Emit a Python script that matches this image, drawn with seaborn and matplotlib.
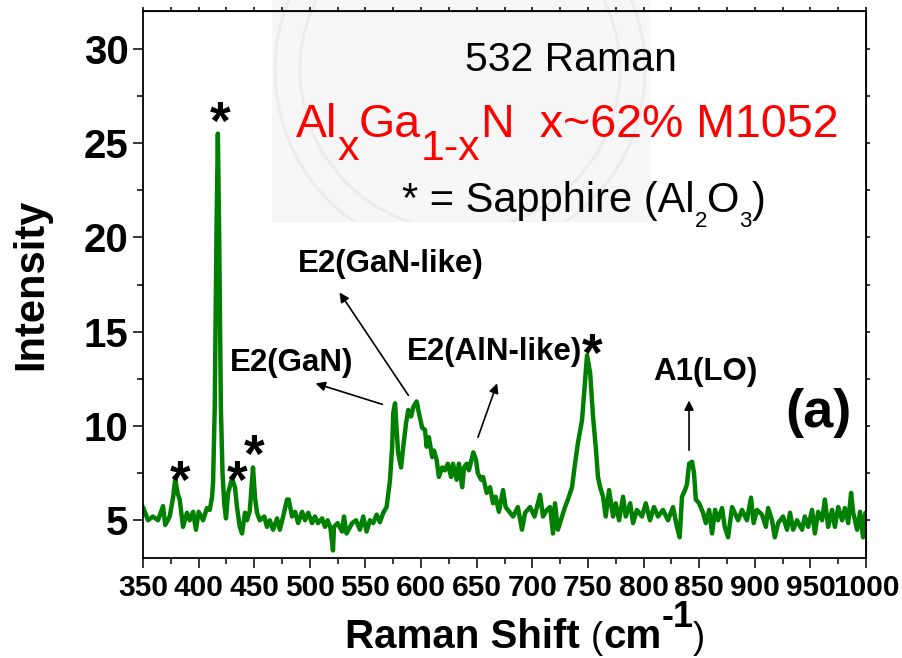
#Raman spectrum of AlxGa1-xN (x~62%, M1052) - 532 nm excitation

#Imports
import pandas as pd
import matplotlib
matplotlib.use('Agg')
import matplotlib.pyplot as plt
import matplotlib.patches as mpatches
from matplotlib.transforms import IdentityTransform
from matplotlib.ticker import MultipleLocator
import seaborn as sns

#Spectrum (Raman shift in cm-1, intensity)
shift = [350, 354.5, 359, 363.5, 368, 370, 374, 377, 379, 381, 383, 386, 389.5, 392, 395,
         397.6, 400, 404, 407.5, 410, 412, 413, 414.5, 416, 417.3, 418.5, 420, 421.5, 423,
         424.6, 426.5, 430, 432.7, 434.5, 437, 439, 441.7, 443.5, 446, 448.9, 450.7, 452.5,
         455, 459, 461.5, 464, 467, 470.5, 473, 476, 479.5, 481, 484, 486.7, 489.5, 493,
         495.7, 498.5, 502, 504.6, 507.3, 511, 513.6, 516, 518.5, 520.8, 521.7, 525, 529,
         530.7, 533, 538, 541.5, 545, 548, 551, 554, 557, 560, 563, 566, 569, 572, 574, 575,
         576.6, 578, 579.3, 582, 584, 586.5, 588.5, 591, 593, 596, 598, 601, 603.5, 605, 607,
         610, 611.6, 614, 616, 619, 621.5, 624, 627, 628.7, 632, 634, 637, 638.6, 641, 643,
         646, 647, 649.4, 651, 654, 655.7, 659, 662, 664.7, 667, 670, 673.7, 676, 678, 682.7,
         687, 690.7, 693.5, 698, 702, 707, 709.6, 713, 716, 718.6, 720.4, 723, 726.7, 729.4,
         732, 735.7, 738.4, 741, 744.7, 747.4, 749.2, 752, 754.6, 757.3, 759, 761, 763.6, 766,
         769, 772.6, 775, 778, 781.6, 784, 788, 790.6, 794, 798.6, 802, 805.8, 809.4, 813,
         817.5, 822, 826.5, 830, 832.5, 834.6, 837.3, 839, 841, 843.6, 845.4, 847, 850, 853.5,
         856, 859, 861.6, 864.3, 867, 870.6, 873, 876, 879.6, 882, 885, 888.5, 893, 896.6,
         899, 902, 906.5, 910, 912, 915.5, 918, 921, 925.4, 929, 931.7, 934.5, 938, 942.5,
         945, 948, 951.5, 954, 957, 960.5, 963, 966, 969.5, 972, 975, 978.5, 981, 984, 986.6,
         988.5, 992, 994.7, 997.3, 999.5]
intensity = [5.7, 5.0, 5.2, 5.0, 5.75, 4.75, 5.2, 6.2, 7.2, 6.45, 6.1, 4.65, 5.4, 5.0, 5.45,
             4.5, 5.45, 5.0, 5.65, 5.55, 6.2, 7.0, 11.0, 20.0, 25.5, 20.0, 11.0, 7.5, 5.9,
             5.1, 6.45, 7.2, 6.75, 5.7, 4.65, 4.3, 5.4, 5.0, 5.5, 7.8, 6.2, 5.4,
             5.0, 5.2, 4.65, 5.0, 4.5, 5.1, 4.5, 5.2, 6.1, 6.1, 5.2, 5.45, 4.85, 5.45,
             5.0, 5.4, 4.85, 5.2, 4.85, 5.1, 4.65, 5.0, 4.6, 3.4, 4.65, 4.85, 4.4,
             5.2, 4.3, 4.85, 5.0, 4.5, 5.2, 4.4, 5.0, 4.85, 5.3, 4.9, 5.4, 5.7, 7.1, 8.9, 10.7,
             11.2, 9.8, 8.6, 7.8, 8.9, 10.15, 10.85, 10.5, 11.0, 11.3, 10.7, 9.9, 9.8, 8.9, 9.4,
             8.35, 8.7, 8.2, 7.3, 7.8, 7.65, 8.0, 7.3, 8.0, 7.15, 8.0, 6.75, 7.8, 8.0, 7.65,
             8.35, 8.6, 8.2, 7.5, 7.15, 7.3, 6.45, 6.75, 5.9, 6.25, 5.45, 6.6, 5.7, 5.55, 5.2,
             5.7, 4.5, 5.4, 5.7, 5.2, 6.35, 5.2, 5.55, 5.7, 4.3, 5.9, 4.5, 5.2, 5.7,
             6.1, 6.75, 8.0, 9.1, 10.3, 12.4, 13.75, 12.8, 10.5, 8.7, 7.3, 6.75, 6.25, 5.2,
             6.6, 5.2, 5.9, 5.0, 6.25, 5.2, 5.9, 4.85, 5.55, 5.2, 5.9, 5.0, 5.7, 5.2,
             5.55, 5.0, 5.7, 4.65, 4.1, 6.25, 6.6, 6.9, 8.0, 8.1, 7.5, 6.1, 5.9, 5.4,
             4.85, 5.55, 4.3, 5.55, 5.0, 5.65, 4.65, 4.1, 5.7, 5.4, 5.0, 5.55, 5.0, 6.2,
             4.85, 5.55, 5.3, 4.65, 5.65, 5.0, 4.1, 4.85, 5.2, 4.5, 5.4, 4.5, 5.0, 4.5,
             5.2, 4.65, 5.55, 4.3, 5.45, 5.0, 6.1, 4.65, 5.55, 4.65, 5.7, 5.0, 5.65, 4.85, 6.45,
             5.4, 4.5, 5.45, 4.1, 5.4]

#Sapphire peak markers (*)
star_x = [383.3, 419.2, 434.5, 449.8, 753.7]
star_y = [6.2, 25.2, 6.2, 7.55, 12.9]

df = pd.DataFrame({'shift': shift, 'intensity': intensity})

#Estilo
sns.set_style('ticks')
plt.rcParams['font.family'] = ['Liberation Sans', 'DejaVu Sans']
plt.rcParams.update({'text.color': 'black', 'axes.labelcolor': 'black', 'axes.edgecolor': 'black',
                     'xtick.color': 'black', 'ytick.color': 'black'})

W, H = 902, 658
fig = plt.figure(figsize = (W / 100, H / 100), dpi = 100)
ax = fig.add_axes([143 / W, 1 - 558 / H, 723 / W, 547 / H])
ax.set_facecolor('none')

#Marca d'agua (fundo cinza claro atras do texto)
box = mpatches.Rectangle((272 / W, 1 - 222 / H), 378 / W, 222 / H, transform = fig.transFigure,
                         facecolor = '#f6f6f6', edgecolor = 'none', zorder = -2)
fig.patches.append(box)
for r in (185, 160):
    ring = mpatches.Circle((460, H - 70), r, transform = IdentityTransform(), facecolor = 'none',
                           edgecolor = '#ebebeb', lw = 2, zorder = -1)
    ring.set_clip_path(box)
    fig.patches.append(ring)

#Plot
sns.lineplot(data = df, x = 'shift', y = 'intensity', ax = ax, color = '#008000', lw = 3.2,
             estimator = None, sort = False)

ax.set_xlim(350, 1000)
ax.set_ylim(3, 32)
ax.xaxis.set_major_locator(MultipleLocator(50))
ax.xaxis.set_minor_locator(MultipleLocator(25))
ax.yaxis.set_major_locator(MultipleLocator(5))
ax.yaxis.set_minor_locator(MultipleLocator(2.5))
ax.set_xlabel('')
ax.set_ylabel('')
for s in ax.spines.values():
    s.set_linewidth(1.3)
    s.set_visible(True)
ax.tick_params(which = 'both', direction = 'out', width = 1.1, color = 'black')
ax.tick_params(which = 'major', length = 7.5)
ax.tick_params(which = 'minor', length = 4)
ax.tick_params(axis = 'x', which = 'major', labelsize = 21.5, pad = 4, labelcolor = 'black')
ax.tick_params(axis = 'y', which = 'major', labelsize = 29, pad = 3, labelcolor = 'black')
for lab in ax.get_xticklabels() + ax.get_yticklabels():
    lab.set_fontweight('bold')

#Ticks curtos em cima e a direita
top = ax.secondary_xaxis('top')
top.xaxis.set_major_locator(MultipleLocator(50))
top.xaxis.set_minor_locator(MultipleLocator(25))
top.tick_params(which = 'both', length = 3, width = 1.1, labeltop = False)
right = ax.secondary_yaxis('right')
right.yaxis.set_major_locator(MultipleLocator(5))
right.yaxis.set_minor_locator(MultipleLocator(2.5))
right.tick_params(which = 'both', length = 3, width = 1.1, labelright = False)

#Asteriscos
for sx, sy in zip(star_x, star_y):
    ax.text(sx, sy, '*', fontsize = 38, fontweight = 'bold', ha = 'center', va = 'baseline')

#Setas
arrow = dict(arrowstyle = '-|>', color = 'black', lw = 1.2, mutation_scale = 14)
ax.annotate('', xy = (525.3, 17.2), xytext = (590, 11.5), arrowprops = arrow)
ax.annotate('', xy = (502.8, 12.3), xytext = (567.6, 11.1), arrowprops = arrow)
ax.annotate('', xy = (669.2, 12.4), xytext = (650.3, 9.26), arrowprops = arrow)
ax.annotate('', xy = (840.9, 11.5), xytext = (840.9, 8.57), arrowprops = arrow)

fig.canvas.draw()
rend = fig.canvas.get_renderer()

def put_runs(x, y, parts):
    #texto em pedacos (subscritos/sobrescritos), x e y em pixels da imagem
    for s, size, weight, color, drop in parts:
        t = fig.text(x, H - y - drop, s, transform = IdentityTransform(), fontsize = size,
                     fontweight = weight, color = color, ha = 'left', va = 'baseline')
        x = t.get_window_extent(rend).x1

put_runs(465, 71, [('532 Raman', 29.5, 'normal', 'black', 0)])
put_runs(296, 137, [('Al', 33.5, 'normal', 'red', 0), ('x', 31, 'normal', 'red', 23),
                    ('Ga', 33.5, 'normal', 'red', 0), ('1-x', 31, 'normal', 'red', 23),
                    ('N', 33.5, 'normal', 'red', 0), ('  x~62% M1052', 33.5, 'normal', 'red', 0)])
put_runs(402, 212, [('* = Sapphire (Al', 30, 'normal', 'black', 0), ('2', 16, 'normal', 'black', 15),
                    ('O', 30, 'normal', 'black', 0), ('3', 16, 'normal', 'black', 15),
                    (')', 30, 'normal', 'black', 0)])

put_runs(298, 272, [('E2(GaN-like)', 22.5, 'bold', 'black', 0)])
put_runs(230, 371, [('E2(GaN)', 22.5, 'bold', 'black', 0)])
put_runs(407, 360, [('E2(AlN-like)', 22.5, 'bold', 'black', 0)])
put_runs(653, 380, [('A1(LO)', 22.5, 'bold', 'black', 0)])
put_runs(785, 427, [('(a)', 39, 'bold', 'black', 0)])

#Rotulos dos eixos
put_runs(345, 648, [('Raman Shift ', 29, 'bold', 'black', 0), ('(', 26, 'normal', 'black', 0),
                    ('cm', 29, 'bold', 'black', 0), ('-1', 26, 'bold', 'black', -21),
                    (')', 26, 'normal', 'black', 0)])
fig.text(31, H - 284, 'Intensity', transform = IdentityTransform(), rotation = 90, fontsize = 30,
         fontweight = 'bold', ha = 'center', va = 'center')

fig.savefig('out.png', dpi = 100)
